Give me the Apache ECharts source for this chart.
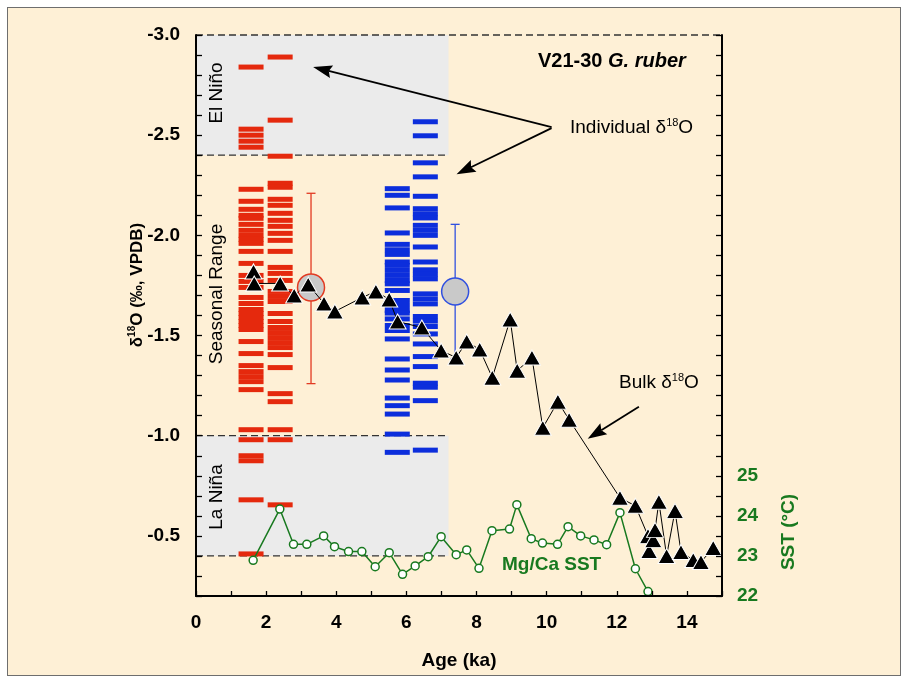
<!DOCTYPE html>
<html>
<head>
<meta charset="utf-8">
<script src="https://cdn.jsdelivr.net/npm/echarts@6/dist/echarts.min.js"></script>
<style>
html,body{margin:0;padding:0;background:#ffffff;}
#frame{position:absolute;left:7px;top:7px;width:894px;height:669px;box-sizing:border-box;border:1px solid #6e6e6e;background:#FEF0D6;}
#chart{position:absolute;left:0;top:0;width:908px;height:683px;}
</style>
</head>
<body>
<div id="frame"></div>
<div id="chart"></div>
<script>
// ---------------- data ----------------
const ageLabels = [0, 2, 4, 6, 8, 10, 12, 14];
const d18oLabels = [-3.0, -2.5, -2.0, -1.5, -1.0, -0.5];
const sstLabels = [22, 23, 24, 25];

// ENSO bands (delta18O) and their age extent
const elNinoBand = [-3.0, -2.4];
const laNinaBand = [-1.0, -0.4];
const bandAgeEnd = 7.2;

// individual foraminifera delta18O (two late-Holocene samples, red; two mid-Holocene samples, blue)
const redAgeA = 1.57;
const redIndivA = [-2.84, -2.53, -2.50, -2.47, -2.44, -2.23, -2.17, -2.13, -2.10, -2.085, -2.055, -2.025, -2.00,
  -1.98, -1.96, -1.92, -1.86, -1.80, -1.77, -1.74, -1.69, -1.66, -1.63, -1.61, -1.59, -1.57, -1.55, -1.53,
  -1.47, -1.41, -1.35, -1.32, -1.295, -1.27, -1.23, -1.03, -0.98, -0.90, -0.875, -0.68, -0.41];
const redAgeB = 2.40;
const redIndivB = [-2.89, -2.575, -2.395, -2.26, -2.24, -2.18, -2.15, -2.11, -2.075, -2.045, -2.01, -1.975, -1.92,
  -1.84, -1.81, -1.775, -1.72, -1.695, -1.67, -1.61, -1.57, -1.54, -1.515, -1.49, -1.465, -1.44, -1.405, -1.34,
  -1.21, -1.17, -1.03, -0.98, -0.655];
const blueAgeA = 5.74;
const blueIndivA = [-2.233, -2.20, -2.137, -2.012, -1.955, -1.928, -1.905, -1.867, -1.85, -1.825, -1.80, -1.775,
  -1.758, -1.725, -1.675, -1.65, -1.625, -1.612, -1.583, -1.55, -1.525, -1.483, -1.383, -1.328, -1.278, -1.188,
  -1.15, -1.108, -1.008, -0.917];
const blueAgeB = 6.54;
const blueIndivB = [-2.567, -2.497, -2.362, -2.292, -2.195, -2.133, -2.108, -2.087, -2.05, -2.025, -2.00, -1.942,
  -1.867, -1.828, -1.805, -1.783, -1.708, -1.683, -1.658, -1.595, -1.572, -1.545, -1.508, -1.458, -1.395, -1.345,
  -1.262, -1.242, -1.175, -0.928];

// mean +/- 1 sd of the individual measurements: [age, mean, upper, lower]
const redMean = [3.28, -1.74, -2.21, -1.26];
const blueMean = [7.39, -1.72, -2.055, -1.385];

// bulk delta18O
const bulkAge = [1.64, 1.66, 2.40, 2.80, 3.20, 3.65, 3.96, 4.74, 5.13, 5.51, 5.75, 6.44, 6.99, 7.42, 7.72, 8.09,
  8.45, 8.96, 9.16, 9.58, 9.89, 10.32, 10.64, 12.09, 12.53, 12.89, 12.92, 13.04, 13.09, 13.20, 13.42, 13.66,
  13.83, 14.18, 14.40, 14.75];
const bulkD18O = [-1.82, -1.76, -1.76, -1.70, -1.755, -1.66, -1.62, -1.69, -1.72, -1.68, -1.57, -1.54, -1.425,
  -1.39, -1.47, -1.43, -1.29, -1.58, -1.325, -1.39, -1.04, -1.17, -1.08, -0.69, -0.65, -0.50, -0.425, -0.48,
  -0.53, -0.67, -0.40, -0.625, -0.42, -0.38, -0.37, -0.44];

// Mg/Ca SST (deg C)
const sstAge = [1.63, 2.39, 2.78, 3.16, 3.64, 3.95, 4.35, 4.73, 5.11, 5.51, 5.89, 6.25, 6.62, 6.99, 7.42, 7.72,
  8.07, 8.44, 8.94, 9.15, 9.56, 9.88, 10.31, 10.61, 10.97, 11.35, 11.71, 12.09, 12.53, 12.89];
const sstVal = [22.89, 24.17, 23.29, 23.29, 23.50, 23.23, 23.11, 23.11, 22.73, 23.08, 22.54, 22.75, 22.98, 23.48,
  23.03, 23.15, 22.69, 23.63, 23.67, 24.28, 23.43, 23.32, 23.29, 23.73, 23.50, 23.40, 23.28, 24.08, 22.68, 22.11];

// annotation arrows: [fromAge, fromD18O, toAge, toD18O]
const arrowNotes = [
  [10.14, -2.54, 3.34, -2.84],
  [10.14, -2.535, 7.43, -2.305],
  [12.63, -1.145, 11.17, -0.985]
];

// ---------------- styles ----------------
const FONT = "'Liberation Sans', Arial, Helvetica, sans-serif";
const RED = '#E5290D';
const BLUE = '#0C2EDC';
const GREEN = '#18791F';
const BAND = '#EBEBEB';

// ---------------- render helpers ----------------
const bandRows = [
  [0, bandAgeEnd, elNinoBand[0], elNinoBand[1]],
  [0, bandAgeEnd, laNinaBand[0], laNinaBand[1]]
];
const dashRows = [
  [0, 15, elNinoBand[0]],
  [0, bandAgeEnd, elNinoBand[1]],
  [0, bandAgeEnd, laNinaBand[0]],
  [0, bandAgeEnd, laNinaBand[1]]
];

function bandRender(params, api) {
  const p1 = api.coord([api.value(0), api.value(2)]);
  const p2 = api.coord([api.value(1), api.value(3)]);
  return {
    type: 'rect',
    shape: { x: Math.min(p1[0], p2[0]), y: Math.min(p1[1], p2[1]),
      width: Math.abs(p2[0] - p1[0]), height: Math.abs(p2[1] - p1[1]) },
    style: { fill: BAND }
  };
}
function dashRender(params, api) {
  const p1 = api.coord([api.value(0), api.value(2)]);
  const p2 = api.coord([api.value(1), api.value(2)]);
  return {
    type: 'line',
    shape: { x1: p1[0], y1: p1[1], x2: p2[0], y2: p2[1] },
    style: { stroke: '#333', lineWidth: 1.3, lineDash: [7, 4] }
  };
}
function errRender(color) {
  return function (params, api) {
    const x = api.value(0);
    const top = api.coord([x, api.value(2)]);
    const bot = api.coord([x, api.value(3)]);
    const w = 4.5;
    const st = { stroke: color, lineWidth: 1.3 };
    return {
      type: 'group',
      children: [
        { type: 'line', shape: { x1: top[0], y1: top[1], x2: bot[0], y2: bot[1] }, style: st },
        { type: 'line', shape: { x1: top[0] - w, y1: top[1], x2: top[0] + w, y2: top[1] }, style: st },
        { type: 'line', shape: { x1: bot[0] - w, y1: bot[1], x2: bot[0] + w, y2: bot[1] }, style: st }
      ]
    };
  };
}
function arrowRender(params, api) {
  const a = api.coord([api.value(0), api.value(1)]);
  const b = api.coord([api.value(2), api.value(3)]);
  const dx = b[0] - a[0], dy = b[1] - a[1];
  const L = Math.sqrt(dx * dx + dy * dy);
  const ux = dx / L, uy = dy / L;
  const hl = 19, hw = 6.5;
  const bx = b[0] - ux * hl, by = b[1] - uy * hl;
  const px = -uy, py = ux;
  return {
    type: 'group',
    children: [
      { type: 'line', shape: { x1: a[0], y1: a[1], x2: bx + ux * 3, y2: by + uy * 3 },
        style: { stroke: '#000', lineWidth: 1.8 } },
      { type: 'polygon', shape: { points: [[b[0], b[1]], [bx + px * hw, by + py * hw],
          [b[0] - ux * hl * 0.85, b[1] - uy * hl * 0.85], [bx - px * hw, by - py * hw]] },
        style: { fill: '#000' } }
    ]
  };
}

function txt(x, y, text, rich, opts) {
  opts = opts || {};
  return {
    type: 'text',
    x: x, y: y,
    rotation: opts.rot || 0,
    z: 100,
    silent: true,
    style: {
      text: text,
      rich: rich,
      align: opts.align || 'center',
      textAlign: opts.align || 'center',
      verticalAlign: 'middle',
      textVerticalAlign: 'middle',
      fill: opts.fill || '#000',
      fontSize: opts.size || 19,
      fontFamily: FONT,
      fontWeight: opts.weight || 'normal'
    }
  };
}
function st(size, weight, fill, extra) {
  return Object.assign({ fontSize: size, fontWeight: weight, fontFamily: FONT, fill: fill,
    lineHeight: size + 3, verticalAlign: 'middle' }, extra || {});
}
const supStyle = (weight, fill, size) => ({ fontSize: size || 11, fontWeight: weight, fontFamily: FONT, fill: fill,
  lineHeight: (size || 11) + 1, verticalAlign: 'top' });

// ---------------- option ----------------
const axisLineStyle = { color: '#000', width: 2 };
const tickStyle = { color: '#000', width: 1.3 };

const option = {
  animation: false,
  backgroundColor: 'transparent',
  grid: { left: 196, top: 35, width: 526, height: 561, containLabel: false },
  xAxis: {
    type: 'value', min: 0, max: 15, interval: 2, position: 'bottom', z: 10,
    axisLine: { show: true, onZero: false, lineStyle: axisLineStyle },
    axisTick: { show: true, inside: true, length: 5, lineStyle: tickStyle },
    minorTick: { show: true, splitNumber: 2, length: 5, lineStyle: tickStyle },
    splitLine: { show: false }, minorSplitLine: { show: false },
    axisLabel: {
      color: '#000', fontSize: 19, fontWeight: 'bold', fontFamily: FONT, margin: 17,
      formatter: v => (ageLabels.indexOf(Math.round(v * 1000) / 1000) >= 0 ? String(Math.round(v)) : '')
    }
  },
  yAxis: [
    {
      type: 'value', min: -3.0, max: -0.2, interval: 0.1, inverse: true, position: 'left', z: 10,
      axisLine: { show: true, onZero: false, lineStyle: axisLineStyle },
      axisTick: { show: true, inside: true, length: 6, lineStyle: tickStyle },
      splitLine: { show: false },
      axisLabel: {
        color: '#000', fontSize: 19, fontWeight: 'bold', fontFamily: FONT, margin: 16,
        formatter: v => {
          const r = Math.round(v * 10) / 10;
          return d18oLabels.some(t => Math.abs(t - r) < 1e-6) ? r.toFixed(1) : '';
        }
      }
    },
    {
      type: 'value', min: 22, max: 36, interval: 0.5, position: 'right', z: 10,
      axisLine: { show: true, onZero: false, lineStyle: axisLineStyle },
      axisTick: { show: true, inside: true, length: 6, lineStyle: tickStyle },
      splitLine: { show: false },
      axisLabel: {
        color: GREEN, fontSize: 19, fontWeight: 'bold', fontFamily: FONT, margin: 15,
        formatter: v => (sstLabels.indexOf(v) >= 0 ? String(v) : '')
      }
    }
  ],
  series: [
    { type: 'custom', name: 'ENSO bands', z: 1, silent: true, renderItem: bandRender, data: bandRows },
    { type: 'custom', name: 'band limits', z: 2, silent: true, renderItem: dashRender, data: dashRows },
    {
      type: 'scatter', name: 'Individual (late)', z: 3, symbol: 'rect', symbolSize: [25, 5],
      itemStyle: { color: RED, opacity: 1 },
      data: redIndivA.map(v => [redAgeA, v]).concat(redIndivB.map(v => [redAgeB, v]))
    },
    {
      type: 'scatter', name: 'Individual (mid)', z: 3, symbol: 'rect', symbolSize: [25, 5],
      itemStyle: { color: BLUE, opacity: 1 },
      data: blueIndivA.map(v => [blueAgeA, v]).concat(blueIndivB.map(v => [blueAgeB, v]))
    },
    { type: 'custom', name: 'late sd', z: 4, renderItem: errRender('#E23A22'), data: [redMean] },
    { type: 'custom', name: 'mid sd', z: 4, renderItem: errRender('#3050E0'), data: [blueMean] },
    {
      type: 'scatter', name: 'means', z: 5, symbol: 'circle', symbolSize: 27,
      itemStyle: { color: '#C9C9C9', borderWidth: 1.5, opacity: 1 },
      data: [
        { value: [redMean[0], redMean[1]], itemStyle: { borderColor: '#E23A22' } },
        { value: [blueMean[0], blueMean[1]], itemStyle: { borderColor: '#3050E0' } }
      ]
    },
    {
      type: 'line', name: 'Bulk', z: 7, yAxisIndex: 0,
      data: bulkAge.map((a, i) => [a, bulkD18O[i]]),
      symbol: 'triangle', symbolSize: [17, 15], showSymbol: true,
      itemStyle: { color: '#000', borderColor: '#fff', borderWidth: 1 },
      lineStyle: { color: '#000', width: 1 }
    },
    {
      type: 'line', name: 'Mg/Ca SST', z: 6, yAxisIndex: 1,
      data: sstAge.map((a, i) => [a, sstVal[i]]),
      symbol: 'circle', symbolSize: 8, showSymbol: true,
      itemStyle: { color: '#fff', borderColor: GREEN, borderWidth: 1.5 },
      lineStyle: { color: GREEN, width: 1.5 }
    },
    { type: 'custom', name: 'arrows', z: 8, silent: true, renderItem: arrowRender, data: arrowNotes }
  ],
  graphic: {
    elements: [
      txt(137, 285, '{b|δ}{s|18}{b|O (‰, VPDB)}',
        { b: st(17, 'bold', '#000'), s: supStyle('bold', '#000', 10) }, { rot: Math.PI / 2 }),
      txt(789, 532, '{g|SST (°C)}', { g: st(19, 'bold', GREEN) }, { rot: Math.PI / 2 }),
      txt(217, 93, '{r|El Niño}', { r: st(19, 'normal', '#000') }, { rot: Math.PI / 2 }),
      txt(217, 294, '{r|Seasonal Range}', { r: st(19, 'normal', '#000') }, { rot: Math.PI / 2 }),
      txt(217, 497, '{r|La Niña}', { r: st(19, 'normal', '#000') }, { rot: Math.PI / 2 }),
      txt(538, 61, '{b|V21-30 }{i|G. ruber}',
        { b: st(20, 'bold', '#000'), i: st(20, 'bold', '#000', { fontStyle: 'italic' }) }, { align: 'left' }),
      txt(570, 128, '{r|Individual δ}{s|18}{r|O}',
        { r: st(19, 'normal', '#000'), s: supStyle('normal', '#000') }, { align: 'left' }),
      txt(619, 383, '{r|Bulk δ}{s|18}{r|O}',
        { r: st(19, 'normal', '#000'), s: supStyle('normal', '#000') }, { align: 'left' }),
      txt(502, 565, '{g|Mg/Ca SST}', { g: st(19, 'bold', GREEN) }, { align: 'left' }),
      txt(459, 661, '{b|Age (ka)}', { b: st(19, 'bold', '#000') })
    ]
  }
};

const chart = echarts.init(document.getElementById('chart'), null, { renderer: 'canvas' });
chart.setOption(option);
</script>
</body>
</html>
